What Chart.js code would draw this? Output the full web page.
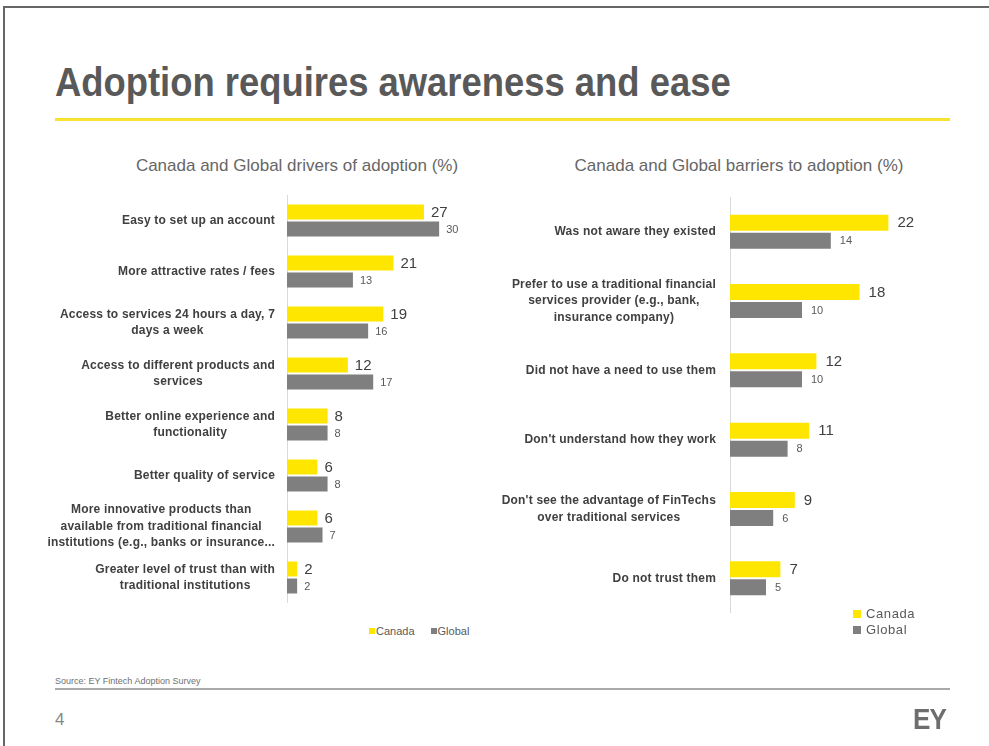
<!DOCTYPE html>
<html lang="en">
<head>
    <meta charset="UTF-8">
    <title>Adoption requires awareness and ease</title>
    <script src="https://cdn.jsdelivr.net/npm/chart.js"></script>
    <style>
        body { margin: 0; background: #fff; font-family: "Liberation Sans", Arial, sans-serif; }
        .slide { position: relative; width: 989px; height: 746px; overflow: hidden; }
        .frame { position: absolute; left: 3px; top: 6px; width: 990px; height: 745px; border-top: 2px solid #666; border-left: 2px solid #666; }
        .title { position: absolute; left: 55px; top: 62px; font-size: 40px; line-height: 40px; font-weight: bold; color: #595959; white-space: nowrap; transform: scaleX(0.91); transform-origin: left top; }
        .rule { position: absolute; left: 55px; top: 118px; width: 895px; height: 3px; background: #f7e32f; }
        .chart-title { position: absolute; width: 400px; text-align: center; top: 157px; font-size: 17px; line-height: 17px; color: #666; white-space: nowrap; }
        canvas { position: absolute; }
        .legend { position: absolute; color: #595959; white-space: nowrap; }
        .legend span.sw { display: inline-block; vertical-align: middle; }
        .legend-left { left: 369px; top: 626px; font-size: 11px; line-height: 11px; }
        .legend-left .sw { width: 6px; height: 6px; margin-right: 1px; position: relative; top: -1px; }
        .legend-left .item + .item { margin-left: 16px; }
        .legend-right { left: 853px; top: 606px; font-size: 13px; line-height: 16px; letter-spacing: 0.6px; }
        .legend-right .sw { width: 8px; height: 8px; margin-right: 5px; position: relative; top: -1px; }
        .legend-right .item { display: block; }
        .source { position: absolute; left: 55px; top: 677px; font-size: 9px; line-height: 9px; color: #707070; white-space: nowrap; }
        .source-rule { position: absolute; left: 55px; top: 688px; width: 895px; height: 2px; background: #a9a9a9; }
        .page { position: absolute; left: 55px; top: 711px; font-size: 17px; line-height: 17px; color: #888; }
        .logo { position: absolute; left: 913px; top: 705px; font-size: 29px; line-height: 29px; font-weight: bold; color: #6e6e6e; letter-spacing: -1px; transform: scaleX(0.9); transform-origin: left top; }
    </style>
</head>
<body>
<div class="slide">
    <div class="frame"></div>
    <div class="title">Adoption requires awareness and ease</div>
    <div class="rule"></div>

    <div class="chart-title" style="left: 97px;">Canada and Global drivers of adoption (%)</div>
    <div class="chart-title" style="left: 539px;">Canada and Global barriers to adoption (%)</div>

    <canvas id="driversChart" width="490" height="408" style="left: 10px; top: 195px;"></canvas>
    <canvas id="barriersChart" width="502" height="416" style="left: 480px; top: 197px;"></canvas>

    <div class="legend legend-left">
        <span class="item"><span class="sw" style="background:#ffe600"></span>Canada</span><span class="item"><span class="sw" style="background:#7f7f7f"></span>Global</span>
    </div>
    <div class="legend legend-right">
        <span class="item"><span class="sw" style="background:#ffe600"></span>Canada</span>
        <span class="item"><span class="sw" style="background:#7f7f7f"></span>Global</span>
    </div>

    <div class="source">Source: EY Fintech Adoption Survey</div>
    <div class="source-rule"></div>
    <div class="page">4</div>
    <div class="logo">EY</div>
</div>

<script>
    // drivers of adoption (%)
    const driverLabels = [
        ['Easy to set up an account'],
        ['More attractive rates / fees'],
        ['Access to services 24 hours a day, 7', 'days a week'],
        ['Access to different products and', 'services'],
        ['Better online experience and', 'functionality'],
        ['Better quality of service'],
        ['More innovative products than', 'available from traditional financial', 'institutions (e.g., banks or insurance...'],
        ['Greater level of trust than with', 'traditional institutions']
    ];
    const driverCanada = [27, 21, 19, 12, 8, 6, 6, 2];
    const driverGlobal = [30, 13, 16, 17, 8, 8, 7, 2];

    // barriers to adoption (%)
    const barrierLabels = [
        ['Was not aware they existed'],
        ['Prefer to use a traditional financial', 'services provider (e.g., bank,', 'insurance company)'],
        ['Did not have a need to use them'],
        ["Don't understand how they work"],
        ["Don't see the advantage of FinTechs", 'over traditional services'],
        ['Do not trust them']
    ];
    const barrierCanada = [22, 18, 12, 11, 9, 7];
    const barrierGlobal = [14, 10, 10, 8, 6, 5];

    const seriesNames = ['Canada', 'Global'];
    const seriesColors = ['#ffe600', '#7f7f7f'];

    // category text, each block right aligned to the axis with its lines centred
    const categoryLabels = {
        id: 'categoryLabels',
        afterDraw(chart, args, opts) {
            const ctx = chart.ctx;
            const yScale = chart.scales.y;
            ctx.save();
            ctx.font = 'bold 12px "Liberation Sans", Arial, sans-serif';
            ctx.letterSpacing = '0.2px';
            ctx.fillStyle = '#404040';
            ctx.textAlign = 'center';
            ctx.textBaseline = 'middle';
            chart.data.labels.forEach((lines, i) => {
                const w = Math.max(...lines.map(l => ctx.measureText(l).width));
                const cx = yScale.right - opts.padding - w / 2;
                const cy = yScale.getPixelForValue(i);
                lines.forEach((line, k) => {
                    ctx.fillText(line, cx, cy + (k - (lines.length - 1) / 2) * 16.5);
                });
            });
            ctx.restore();
        }
    };

    // numbers at the end of each bar
    const valueLabels = {
        id: 'valueLabels',
        afterDatasetsDraw(chart, args, opts) {
            const ctx = chart.ctx;
            ctx.save();
            ctx.textAlign = 'left';
            ctx.textBaseline = 'middle';
            chart.data.datasets.forEach((ds, di) => {
                ctx.font = opts.fonts[di];
                ctx.fillStyle = opts.colors[di];
                chart.getDatasetMeta(di).data.forEach((bar, i) => {
                    ctx.fillText(ds.data[i], bar.x + opts.gap, bar.y + 0.5);
                });
            });
            ctx.restore();
        }
    };

    function makeChart(id, labels, canada, global, cfg) {
        const ctx = document.getElementById(id).getContext('2d');
        return new Chart(ctx, {
            type: 'bar',
            data: {
                labels: labels,
                datasets: [canada, global].map((values, i) => ({
                    label: seriesNames[i],
                    data: values,
                    backgroundColor: seriesColors[i],
                    categoryPercentage: cfg.categoryPercentage,
                    barPercentage: cfg.barPercentage
                }))
            },
            options: {
                indexAxis: 'y',
                responsive: false,
                animation: false,
                layout: { padding: 0 },
                scales: {
                    x: { display: false, min: 0, max: cfg.max },
                    y: {
                        grid: { display: false },
                        ticks: { display: false },
                        border: { display: true, color: '#d9d9d9', width: 1 },
                        afterFit: s => { s.width = cfg.axisWidth; }
                    }
                },
                plugins: {
                    legend: { display: false },
                    tooltip: { enabled: false },
                    categoryLabels: { padding: cfg.labelPadding },
                    valueLabels: {
                        gap: cfg.gap,
                        fonts: cfg.fonts,
                        colors: ['#404040', '#595959']
                    }
                }
            },
            plugins: [categoryLabels, valueLabels]
        });
    }

    makeChart('driversChart', driverLabels, driverCanada, driverGlobal, {
        max: 42,
        axisWidth: 277,
        labelPadding: 12,
        gap: 7,
        categoryPercentage: 0.667,
        barPercentage: 0.88,
        fonts: ['15px "Liberation Sans Narrow", "Liberation Sans", sans-serif', '11px "Liberation Sans", Arial, sans-serif']
    });

    makeChart('barriersChart', barrierLabels, barrierCanada, barrierGlobal, {
        max: 35,
        axisWidth: 250,
        labelPadding: 14,
        gap: 9,
        categoryPercentage: 0.52,
        barPercentage: 0.89,
        fonts: ['15px "Liberation Sans Narrow", "Liberation Sans", sans-serif', '11px "Liberation Sans", Arial, sans-serif']
    });
</script>
</body>
</html>
